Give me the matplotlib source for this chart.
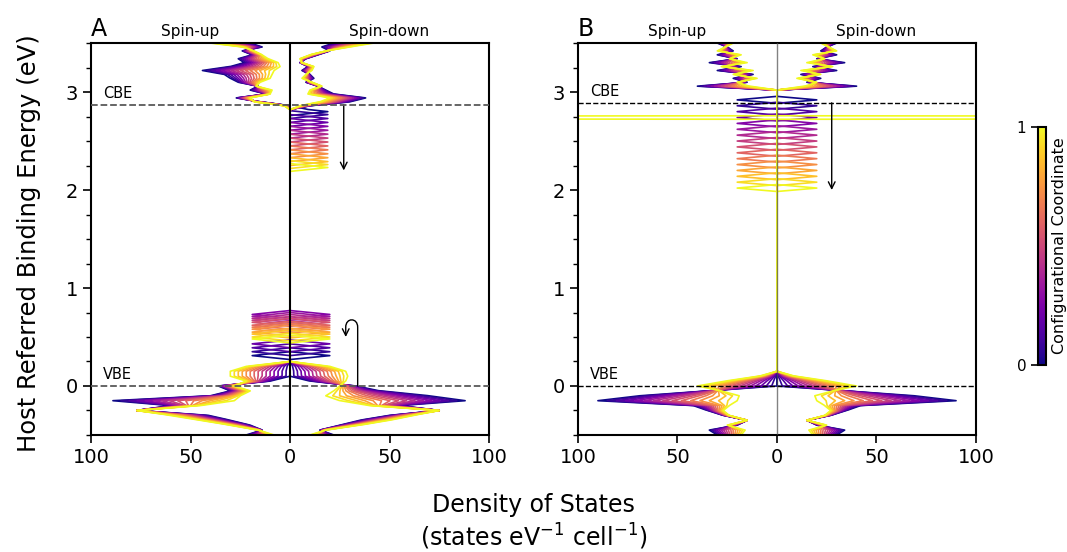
import numpy as np
import matplotlib.pyplot as plt
from matplotlib.path import Path
from matplotlib.patches import FancyArrowPatch
import matplotlib as mpl

# configurational coordinate of every curve (0 = first geometry, 1 = second)
coords = np.linspace(0, 1, 16)

# ---------- panel A : host bands at the two end geometries ----------
e_val_A = [-0.50, -0.45, -0.40, -0.35, -0.30, -0.25, -0.20, -0.15, -0.10,
           -0.05, 0.00, 0.05, 0.10, 0.15, 0.20, 0.25, 0.30]
up_val_A0 = [22, 14, 20, 30, 41, 77, 60, 89, 40, 30, 36, 10, 0, 0, 0, 0, 0]
up_val_A1 = [8, 16, 30, 45, 60, 77, 45, 28, 25, 20, 28, 22, 30, 30, 22, 0, 0]
dn_val_A0 = [22, 15, 25, 35, 50, 75, 55, 88, 70, 45, 33, 10, 0, 0, 0, 0, 0]
dn_val_A1 = [10, 18, 35, 50, 62, 75, 40, 25, 18, 22, 25, 28, 29, 28, 20, 0, 0]

e_cb_A = [2.82, 2.86, 2.90, 2.94, 2.98, 3.02, 3.06, 3.10, 3.14, 3.18, 3.22,
          3.26, 3.30, 3.34, 3.38, 3.42, 3.46, 3.50]
up_cb_A0 = [0, 0, 15, 27, 12, 20, 16, 26, 30, 33, 44, 30, 23, 26, 19, 24, 14, 20]
up_cb_A1 = [0, 3, 18, 20, 10, 9, 17, 15, 10, 9, 8, 5, 6, 11, 14, 18, 24, 40]
dn_cb_A0 = [0, 10, 30, 38, 22, 18, 14, 8, 12, 10, 6, 9, 5, 8, 14, 20, 16, 22]
dn_cb_A1 = [0, 5, 15, 20, 9, 10, 16, 11, 6, 8, 11, 12, 6, 5, 10, 18, 30, 42]

# defect level in the gap (both spins) and empty spin-down level below the CB
gap_A = [0.31, 0.35, 0.39, 0.43, 0.73, 0.71, 0.69, 0.67, 0.65, 0.62, 0.60,
         0.58, 0.55, 0.53, 0.50, 0.48]
cbdef_A = [2.80, 2.77, 2.73, 2.69, 2.65, 2.61, 2.57, 2.53, 2.49, 2.45, 2.41,
           2.37, 2.33, 2.29, 2.26, 2.23]

# ---------- panel B (spin-up and spin-down identical) ----------
e_val_B = [-0.50, -0.45, -0.40, -0.35, -0.30, -0.25, -0.20, -0.15, -0.10,
           -0.05, 0.00, 0.05, 0.10, 0.15]
val_B0 = [30, 34, 20, 15, 27, 35, 42, 90, 69, 35, 0, 0, 0, 0]
val_B1 = [18, 16, 25, 15, 24, 27, 24, 20, 19, 28, 40, 26, 9, 0]

e_cb_B = [2.98, 3.02, 3.06, 3.10, 3.14, 3.18, 3.22, 3.26, 3.30, 3.34, 3.38,
          3.42, 3.46, 3.50]
cb_B0 = [0, 0, 40, 15, 22, 12, 30, 18, 34, 20, 30, 22, 25, 30]
cb_B1 = [0, 0, 14, 20, 10, 22, 12, 28, 15, 24, 18, 30, 26, 22]

cbdef_B = [2.92, 2.86, 2.80, 2.74, 2.68, 2.62, 2.56, 2.50, 2.44, 2.38, 2.32,
           2.26, 2.20, 2.14, 2.08, 2.02]
spike_B = 2.74  # very sharp level of the last geometry

cbe_A, cbe_B = 2.87, 2.89
vbe = 0.0

E = np.arange(-0.55, 3.56, 0.002)
cmap = plt.get_cmap('plasma')
LW = 1.2


def peak(e0, h, hw):  # triangular level
    return np.interp(E, [e0 - hw, e0, e0 + hw], [0, h, 0], left=0, right=0)


def host(q, ev, v0, v1, ec, c0, c1):
    d = (1 - q) * np.interp(E, ev, v0, right=0) + q * np.interp(E, ev, v1, right=0)
    d += (1 - q) * np.interp(E, ec, c0, left=0) + q * np.interp(E, ec, c1, left=0)
    return d


def setup(ax, letter, cbe, dash_col, dash_lw):
    ax.set_xlim(-100, 100)
    ax.set_ylim(-0.5, 3.5)
    ax.set_xticks([-100, -50, 0, 50, 100])
    ax.set_xticklabels(['100', '50', '0', '50', '100'])
    ax.set_yticks([0, 1, 2, 3])
    ax.set_yticks(np.arange(-0.5, 3.51, 0.25), minor=True)
    ax.tick_params(which='major', length=6, width=1.2, labelsize=14)
    ax.tick_params(which='minor', length=3.5, width=1.0)
    for s in ax.spines.values():
        s.set_linewidth(1.5)
    ax.axhline(cbe, color=dash_col, ls='--', lw=dash_lw, zorder=5)
    ax.axhline(vbe, color=dash_col, ls='--', lw=dash_lw, zorder=5)
    ax.text(-94, cbe + 0.04, 'CBE', fontsize=10.5, va='bottom')
    ax.text(-94, vbe + 0.04, 'VBE', fontsize=10.5, va='bottom')
    ax.text(0.0, 1.005, letter, transform=ax.transAxes, fontsize=17, va='bottom')
    ax.text(0.25, 1.01, 'Spin-up', transform=ax.transAxes, fontsize=11, ha='center', va='bottom')
    ax.text(0.75, 1.01, 'Spin-down', transform=ax.transAxes, fontsize=11, ha='center', va='bottom')


fig = plt.figure(figsize=(10.67, 5.52), dpi=100)
axA = fig.add_axes([0.0853, 0.212, 0.373, 0.710])
axB = fig.add_axes([0.5417, 0.212, 0.373, 0.710])
cax = fig.add_axes([0.9728, 0.339, 0.0075, 0.431])

# panel A
for i, q in enumerate(coords):
    c = cmap(q)
    up = host(q, e_val_A, up_val_A0, up_val_A1, e_cb_A, up_cb_A0, up_cb_A1)
    dn = host(q, e_val_A, dn_val_A0, dn_val_A1, e_cb_A, dn_cb_A0, dn_cb_A1)
    up = up + peak(gap_A[i], 19, 0.04)
    dn = dn + peak(gap_A[i], 20, 0.04) + peak(cbdef_A[i], 19, 0.04)
    axA.plot(-up, E, color=c, lw=LW)
    axA.plot(dn, E, color=c, lw=LW)
axA.axvline(0, color='k', lw=1.5, zorder=6)
setup(axA, 'A', cbe_A, '0.35', 1.3)
axA.annotate('', xy=(27, 2.2), xytext=(27, cbe_A),
             arrowprops=dict(arrowstyle='->', lw=1.0, color='k', mutation_scale=12,
                             shrinkA=0, shrinkB=0))
loop = Path([(34, vbe), (34, 0.60), (34, 0.70), (28, 0.70), (28, 0.60), (28, 0.50)],
            [Path.MOVETO, Path.LINETO, Path.CURVE4, Path.CURVE4, Path.CURVE4, Path.LINETO])
axA.add_patch(FancyArrowPatch(path=loop, arrowstyle='->', mutation_scale=12,
                              lw=1.0, color='k', zorder=6))

# panel B
for i, q in enumerate(coords):
    c = cmap(q)
    d = host(q, e_val_B, val_B0, val_B1, e_cb_B, cb_B0, cb_B1)
    d = d + peak(cbdef_B[i], 20, 0.035)
    if i == len(coords) - 1:
        d = d + peak(spike_B, 1000, 0.018)
    axB.plot(-d, E, color=c, lw=LW)
    axB.plot(d, E, color=c, lw=LW)
axB.axvline(0, color='0.3', lw=1.0, alpha=0.7, zorder=6)
setup(axB, 'B', cbe_B, 'k', 1.0)
axB.annotate('', xy=(27.5, 2.0), xytext=(27.5, cbe_B),
             arrowprops=dict(arrowstyle='->', lw=1.0, color='k', mutation_scale=12,
                             shrinkA=0, shrinkB=0))

# colorbar
sm = mpl.cm.ScalarMappable(cmap=cmap, norm=mpl.colors.Normalize(0, 1))
cb = fig.colorbar(sm, cax=cax, ticks=[0, 1])
cb.ax.yaxis.set_ticks_position('left')
cb.ax.tick_params(labelsize=11, length=5, width=1.2)
cb.outline.set_linewidth(1.5)
cb.set_label('Configurational Coordinate', fontsize=11.5)
cb.ax.yaxis.set_label_position('right')

fig.text(0.027, 0.56, 'Host Referred Binding Energy (eV)', rotation=90,
         fontsize=17.5, ha='center', va='center')
fig.text(0.5, 0.0, 'Density of States\n(states eV$^{-1}$ cell$^{-1}$)',
         fontsize=17, ha='center', va='bottom', multialignment='center')

fig.savefig('out.png', dpi=100)
